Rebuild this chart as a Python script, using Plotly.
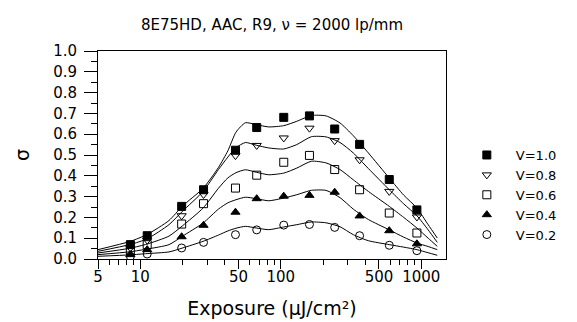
import plotly.graph_objects as go

# ---- data ----
exposure_pts = [8.5, 11.2, 19.7, 28.2, 47.6, 67.4, 105, 160, 242, 364, 592, 931]
sig_v10 = [0.069, 0.112, 0.253, 0.333, 0.523, 0.632, 0.681, 0.688, 0.625, 0.551, 0.382, 0.236]
sig_v08 = [0.053, 0.090, 0.208, 0.310, 0.497, 0.546, 0.582, 0.629, 0.569, 0.477, 0.325, 0.202]
sig_v06 = [0.037, 0.069, 0.168, 0.266, 0.341, 0.403, 0.465, 0.498, 0.430, 0.333, 0.221, 0.125]
sig_v04 = [0.021, 0.045, 0.107, 0.162, 0.225, 0.290, 0.302, 0.306, 0.321, 0.207, 0.136, 0.073]
sig_v02 = [0.013, 0.024, 0.053, 0.080, 0.117, 0.140, 0.163, 0.166, 0.152, 0.112, 0.066, 0.040]

curve_x = [5, 8.5, 11.2, 16, 20, 28, 36, 42, 48, 56, 67, 82, 105, 130, 165, 210, 264,
           328, 420, 592, 750, 931, 1120, 1300]
fit_v10 = [0.045, 0.085, 0.118, 0.185, 0.255, 0.340, 0.440, 0.520, 0.610, 0.655, 0.646, 0.635,
           0.641, 0.662, 0.690, 0.688, 0.654, 0.593, 0.510, 0.389, 0.307, 0.245, 0.165, 0.101]
fit_v08 = [0.037, 0.070, 0.097, 0.165, 0.230, 0.325, 0.430, 0.490, 0.535, 0.560, 0.547, 0.534,
           0.529, 0.550, 0.588, 0.587, 0.560, 0.510, 0.435, 0.333, 0.265, 0.208, 0.140, 0.080]
fit_v06 = [0.029, 0.052, 0.072, 0.110, 0.160, 0.245, 0.340, 0.390, 0.415, 0.429, 0.417, 0.405,
           0.413, 0.437, 0.470, 0.462, 0.430, 0.381, 0.325, 0.253, 0.200, 0.149, 0.100, 0.061]
fit_v04 = [0.021, 0.035, 0.048, 0.069, 0.110, 0.173, 0.240, 0.270, 0.285, 0.297, 0.290, 0.280,
           0.293, 0.309, 0.330, 0.330, 0.295, 0.240, 0.190, 0.140, 0.105, 0.077, 0.060, 0.045]
fit_v02 = [0.013, 0.020, 0.026, 0.034, 0.053, 0.085, 0.115, 0.135, 0.148, 0.157, 0.149, 0.141,
           0.154, 0.165, 0.178, 0.174, 0.155, 0.117, 0.088, 0.069, 0.057, 0.045, 0.030, 0.018]

labels = ["V=1.0", "V=0.8", "V=0.6", "V=0.4", "V=0.2"]
symbols = ["square", "triangle-down-open", "square-open", "triangle-up", "circle-open"]
x_tickvals = [5, 10, 50, 100, 500, 1000]
x_ticktext = ["5", "10", "50", "100", "500", "1000"]
x_minor = [6, 7, 8, 9, 20, 30, 40, 60, 70, 80, 90, 200, 300, 400, 600, 700, 800, 900]

FONT = "DejaVu Sans"

fig = go.Figure()
fits = [fit_v10, fit_v08, fit_v06, fit_v04, fit_v02]
pts = [sig_v10, sig_v08, sig_v06, sig_v04, sig_v02]

for fy in fits:
    fig.add_trace(go.Scatter(x=curve_x, y=fy, mode="lines",
                             line=dict(color="black", width=1, shape="spline", smoothing=0.6),
                             showlegend=False, hoverinfo="skip"))

for lab, sym, py in zip(labels, symbols, pts):
    fig.add_trace(go.Scatter(x=exposure_pts, y=py, mode="markers", name=lab,
                             marker=dict(symbol=sym, size=8, color="black",
                                         line=dict(color="black", width=1))))

fig.update_layout(
    width=577, height=322, autosize=False,
    margin=dict(l=90, r=139, t=43, b=71),
    paper_bgcolor="white", plot_bgcolor="white",
    font=dict(family=FONT, color="black", size=14),
    title=dict(text="8E75HD, AAC, R9, \u03bd = 2000 lp/mm", x=0.4575, xanchor="center",
               y=0.947, yanchor="middle", font=dict(family=FONT, size=15, color="black")),
    legend=dict(x=1.034, y=0.572, xanchor="left", yanchor="top", itemwidth=48,
                font=dict(family=FONT, size=13, color="black"),
                bgcolor="rgba(0,0,0,0)", borderwidth=0, tracegroupgap=0),
    showlegend=True,
)

fig.update_xaxes(
    type="log", range=[0.69897, 3.17609], automargin=False,
    tickmode="array", tickvals=x_tickvals, ticktext=x_ticktext,
    ticks="outside", ticklen=9, tickwidth=1, tickcolor="black",
    ticklabelstandoff=-5,
    minor=dict(tickmode="array", tickvals=x_minor, ticks="outside", ticklen=5,
               tickwidth=1, tickcolor="black", showgrid=False),
    showline=True, linecolor="black", linewidth=1, mirror=True,
    showgrid=False, zeroline=False,
    tickfont=dict(family=FONT, size=15, color="black"),
    title=dict(text="Exposure (\u03bcJ/cm\u00b2)", font=dict(family=FONT, size=19, color="black"),
               standoff=16),
)

fig.update_yaxes(
    range=[0, 1], automargin=False, tickmode="linear", tick0=0, dtick=0.1, tickformat=".1f",
    ticks="outside", ticklen=13, tickwidth=1, tickcolor="black",
    ticklabelstandoff=4,
    minor=dict(tickmode="linear", tick0=0.05, dtick=0.1, ticks="outside", ticklen=6,
               tickwidth=1, tickcolor="black", showgrid=False),
    showline=True, linecolor="black", linewidth=1, mirror=True,
    showgrid=False, zeroline=False,
    tickfont=dict(family=FONT, size=15, color="black"),
    title=dict(text="\u03c3", font=dict(family=FONT, size=19, color="black"), standoff=18),
)

fig.write_html("out.html")
